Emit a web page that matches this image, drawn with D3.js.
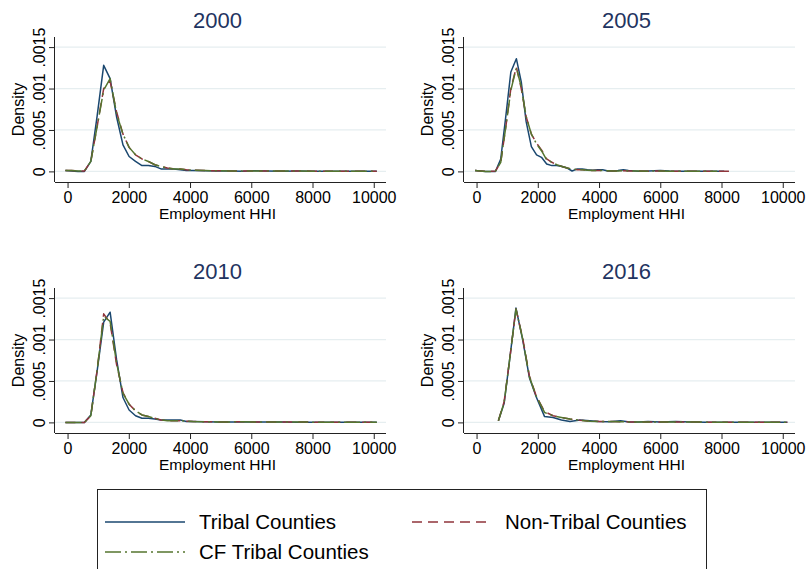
<!DOCTYPE html>
<html>
<head>
<meta charset="utf-8">
<script src="https://cdn.jsdelivr.net/npm/d3@7"></script>
<style>
  body { margin: 0; background: #fff; }
  svg { font-family: "Liberation Sans", Arial, sans-serif; }
</style>
</head>
<body>
<div id="chart"></div>
<script>
const width = 806;
const height = 569;

// x grids (Employment HHI)
const hhi2000 = [-70, 130, 340, 550, 760, 970, 1180, 1390, 1600, 1810, 2010, 2220, 2430, 2640, 2850, 3050, 3260, 3470, 3680, 3880, 4090, 4500, 4900, 5300, 5700, 6100, 6500, 7000, 7500, 8000, 8500, 9000, 9500, 10100];
const hhi2005 = [-50, 120, 290, 460, 620, 790, 960, 1120, 1300, 1460, 1620, 1790, 1960, 2120, 2290, 2460, 2620, 2790, 2960, 3120, 3290, 3450, 3620, 3790, 3960, 4120, 4290, 4460, 4620, 4790, 4960, 5290, 5620, 6000, 6300, 6600, 7000, 7400, 7860, 8086, 8250];
const hhi2010 = [-70, 130, 340, 550, 760, 970, 1180, 1390, 1600, 1810, 2010, 2220, 2430, 2640, 2850, 3050, 3260, 3470, 3680, 3880, 4090, 4500, 4900, 5300, 5700, 6100, 6500, 7000, 7500, 8000, 8500, 9000, 9500, 10100];
const hhi2016 = [713, 901, 1095, 1287, 1505, 1726, 1947, 2221, 2500, 2772, 3050, 3380, 3700, 4000, 4350, 4700, 5000, 5300, 5600, 6000, 6500, 7000, 7500, 8000, 8500, 9000, 9500, 10150];

// densities
const tribal2000 = [0.00001, 0.000005, 0, 0, 0.00012, 0.00068, 0.00128, 0.00112, 0.00066, 0.00032, 0.00018, 0.00012, 0.00007, 0.00007, 0.00006, 0.00003, 0.00003, 0.00003, 0.00002, 0.00001, 0.00001, 0.000008, 0.000005, 0.000005, 0.000003, 0.000008, 0.000005, 0.000003, 0.000005, 0.000003, 0.000002, 0.000002, 0.000002, 0.000002];
const nontribal2000 = [0.00001, 0.00001, 0.000005, 0.000005, 0.00012, 0.00055, 0.00100, 0.00109, 0.00072, 0.00045, 0.00029, 0.00020, 0.00015, 0.00012, 0.00008, 0.00006, 0.00004, 0.00003, 0.00003, 0.00002, 0.000015, 0.00001, 0.000008, 0.000006, 0.000005, 0.000006, 0.000004, 0.000005, 0.000004, 0.000003, 0.000003, 0.000003, 0.000002, 0.000002];
const cf2000 = [0.00001, 0.00001, 0.000005, 0.000005, 0.00012, 0.00055, 0.00098, 0.00112, 0.00070, 0.00045, 0.00029, 0.00020, 0.00015, 0.00012, 0.00008, 0.00006, 0.00004, 0.00003, 0.00003, 0.00002, 0.000015, 0.00001, 0.000008, 0.000006, 0.000005, 0.000006, 0.000004, 0.000005, 0.000004, 0.000003, 0.000003, 0.000003, 0.000002, 0.000002];

const tribal2005 = [0.00001, 0.000005, 0, 0, 0, 0.00015, 0.00068, 0.00120, 0.00136, 0.00108, 0.00060, 0.00030, 0.00020, 0.00017, 0.00009, 0.00007, 0.00007, 0.00006, 0.00004, 0.000005, 0.00003, 0.00003, 0.00002, 0.000015, 0.00002, 0.00002, 0.000005, 0.000005, 0.00001, 0.00002, 0.00001, 0.000003, 0.000005, 0.00001, 0.000005, 0.000003, 0.000003, 0.000003, 0.000002, 0.000002, null];
const nontribal2005 = [0.00001, 0.000005, 0, 0, 0.000005, 0.00011, 0.00055, 0.00100, 0.00126, 0.00100, 0.00066, 0.00045, 0.00034, 0.00026, 0.00015, 0.00011, 0.00008, 0.00006, 0.00004, 0.00003, 0.00002, 0.00002, 0.000015, 0.00001, 0.00001, 0.00001, 0.000008, 0.000006, 0.000005, 0.000008, 0.000006, 0.000004, 0.000003, 0.000004, 0.000003, 0.000003, 0.000003, 0.000002, 0.000002, 0.000002, 0.000002];
const cf2005 = [0.00001, 0.000005, 0, 0, 0.000005, 0.00011, 0.00055, 0.00098, 0.00125, 0.00102, 0.00066, 0.00045, 0.00033, 0.00025, 0.00014, 0.00011, 0.00008, 0.00006, 0.00004, 0.00003, 0.00002, 0.00002, 0.000015, 0.00001, 0.00001, 0.00001, 0.000008, 0.000006, 0.000005, 0.000008, 0.000006, 0.000004, 0.000003, 0.000004, 0.000003, 0.000003, 0.000003, 0.000002, 0.000002, null, null];

const tribal2010 = [0, 0, 0, 0, 0.00009, 0.00063, 0.00121, 0.00133, 0.00076, 0.00030, 0.00015, 0.00008, 0.00005, 0.00005, 0.00004, 0.00003, 0.00003, 0.00003, 0.00003, 0.00001, 0.00001, 0.000008, 0.000005, 0.000005, 0.000006, 0.000005, 0.000004, 0.000005, 0.000003, 0.000003, 0.000003, 0.000002, 0.000002, 0.000002];
const nontribal2010 = [0, 0, 0, 0, 0.00008, 0.00064, 0.00131, 0.00120, 0.00070, 0.00036, 0.00022, 0.00014, 0.00009, 0.00007, 0.00005, 0.00003, 0.00002, 0.00002, 0.00002, 0.000015, 0.00001, 0.000008, 0.000006, 0.000006, 0.000008, 0.000005, 0.000004, 0.000006, 0.000004, 0.000003, 0.000003, 0.000003, 0.000002, 0.000002];
const cf2010 = [0, 0, 0, 0, 0.00008, 0.00064, 0.00128, 0.00122, 0.00072, 0.00035, 0.00022, 0.00014, 0.00009, 0.00007, 0.00005, 0.00003, 0.00002, 0.00002, 0.00002, 0.000015, 0.00001, 0.000008, 0.000006, 0.000006, 0.000008, 0.000005, 0.000004, 0.000006, 0.000004, 0.000003, 0.000003, 0.000003, 0.000002, 0.000002];

const tribal2016 = [0.00002, 0.00023, 0.00080, 0.00138, 0.00100, 0.00054, 0.00031, 0.00007, 0.00006, 0.00003, 0.00001, 0.00003, 0.00002, 0.00001, 0.000008, 0.00002, 0.000005, 0.000005, 0.00001, 0.000005, 0.00001, 0.000005, 0.000003, 0.000003, 0.000003, 0.000002, 0.000002, 0.000002];
const nontribal2016 = [0.00002, 0.00025, 0.00080, 0.00137, 0.00102, 0.00056, 0.00032, 0.00013, 0.00008, 0.00006, 0.00004, 0.000025, 0.000015, 0.00001, 0.00001, 0.000008, 0.000006, 0.000005, 0.000005, 0.000005, 0.000004, 0.000004, 0.000003, 0.000003, 0.000003, 0.000002, 0.000002, 0.000002];
const cf2016 = [0.00002, 0.00024, 0.00080, 0.00137, 0.00101, 0.00055, 0.00032, 0.00012, 0.00008, 0.00006, 0.00004, 0.000025, 0.000015, 0.00001, 0.00001, 0.000008, 0.000006, 0.000005, 0.000005, 0.000005, 0.000004, 0.000004, 0.000003, 0.000003, 0.000003, 0.000002, 0.000002, 0.000002];

const years = ['2000', '2005', '2010', '2016'];
const xTicks = [0, 2000, 4000, 6000, 8000, 10000];
const yTicks = [0, 0.0005, 0.001, 0.0015];
const yTickLabels = ['0', '.0005', '.001', '.0015'];
const seriesNames = ['Tribal Counties', 'Non-Tribal Counties', 'CF Tribal Counties'];

const panels = [
    {year: years[0], hhi: hhi2000, series: [tribal2000, nontribal2000, cf2000]},
    {year: years[1], hhi: hhi2005, series: [tribal2005, nontribal2005, cf2005]},
    {year: years[2], hhi: hhi2010, series: [tribal2010, nontribal2010, cf2010]},
    {year: years[3], hhi: hhi2016, series: [tribal2016, nontribal2016, cf2016]},
];

const colors = ['#1a476f', '#90353b', '#55752f'];
const dashes = [null, '10,6', '16,4,2,4'];

const colX = [55, 464];
const rowY = [37, 288];
const plotW = 331;
const plotH = 145;

const svg = d3.select('#chart').append('svg')
    .attr('width', width)
    .attr('height', height);

const x = d3.scaleLinear().domain([-410, 10400]).range([0, plotW]);
const y = d3.scaleLinear().domain([-0.000128, 0.001622]).range([plotH, 0]);

panels.forEach((p, i) => {
    const g = svg.append('g')
        .attr('transform', `translate(${colX[i % 2]},${rowY[Math.floor(i / 2)]})`);

    // gridlines
    g.append('g')
        .selectAll('line')
        .data(yTicks)
        .join('line')
        .attr('x1', 0)
        .attr('x2', plotW)
        .attr('y1', d => y(d))
        .attr('y2', d => y(d))
        .attr('stroke', '#e6eef0')
        .attr('stroke-width', 1.2);

    // curves
    const line = d3.line()
        .defined(d => d[1] != null)
        .x(d => x(d[0]))
        .y(d => y(d[1]));

    p.series.forEach((vals, s) => {
        g.append('path')
            .datum(p.hhi.map((h, k) => [h, vals[k]]))
            .attr('fill', 'none')
            .attr('stroke', colors[s])
            .attr('stroke-width', 1.5)
            .attr('stroke-linejoin', 'round')
            .attr('stroke-dasharray', dashes[s])
            .attr('d', line);
    });

    // axes
    const xAxis = g.append('g')
        .attr('transform', `translate(0,${plotH})`)
        .call(d3.axisBottom(x).tickValues(xTicks).tickSize(6).tickPadding(4).tickSizeOuter(0)
            .tickFormat(d3.format('d')));
    xAxis.select('.domain').attr('stroke', '#222').attr('d', `M0,0.5H${plotW}`);
    xAxis.selectAll('.tick line').attr('stroke', '#222');
    xAxis.selectAll('.tick text')
        .attr('font-size', '16px')
        .attr('fill', '#000')
        .attr('font-family', '"Liberation Sans", Arial, sans-serif');

    const yAxis = g.append('g')
        .call(d3.axisLeft(y).tickValues(yTicks).tickSize(6).tickSizeOuter(0)
            .tickFormat((d, k) => yTickLabels[k]));
    yAxis.select('.domain').attr('stroke', '#222').attr('d', `M-0.5,0V${plotH}`);
    yAxis.selectAll('.tick line').attr('stroke', '#222');
    yAxis.selectAll('.tick text')
        .attr('font-size', '16px')
        .attr('fill', '#000')
        .attr('font-family', '"Liberation Sans", Arial, sans-serif')
        .attr('x', null)
        .attr('dy', null)
        .attr('text-anchor', 'middle')
        .attr('transform', 'translate(-10,0) rotate(-90)');

    // titles
    g.append('text')
        .attr('x', plotW / 2 - 3)
        .attr('y', -9)
        .attr('text-anchor', 'middle')
        .attr('font-size', '22px')
        .attr('fill', '#1f3461')
        .text(p.year);

    g.append('text')
        .attr('x', plotW / 2 - 3)
        .attr('y', plotH + 37)
        .attr('text-anchor', 'middle')
        .attr('font-size', '15.5px')
        .attr('fill', '#000')
        .text('Employment HHI');

    g.append('text')
        .attr('transform', `translate(-31,${plotH / 2}) rotate(-90)`)
        .attr('text-anchor', 'middle')
        .attr('font-size', '16px')
        .attr('fill', '#000')
        .text('Density');
});

// legend
const legend = svg.append('g');
legend.append('rect')
    .attr('x', 97.5)
    .attr('y', 489.5)
    .attr('width', 609)
    .attr('height', 100)
    .attr('fill', '#fff')
    .attr('stroke', '#222')
    .attr('stroke-width', 1);

const legendItems = [
    {name: seriesNames[0], lx: 105, ly: 522, tx: 199},
    {name: seriesNames[1], lx: 412, ly: 522, tx: 505},
    {name: seriesNames[2], lx: 105, ly: 552, tx: 199},
];

legendItems.forEach((d, i) => {
    legend.append('line')
        .attr('x1', d.lx)
        .attr('x2', d.lx + 80)
        .attr('y1', d.ly)
        .attr('y2', d.ly)
        .attr('stroke', colors[i])
        .attr('stroke-width', 1.5)
        .attr('stroke-dasharray', dashes[i]);
    legend.append('text')
        .attr('x', d.tx)
        .attr('y', d.ly + 7)
        .attr('font-size', '20.5px')
        .attr('fill', '#000')
        .text(d.name);
});
</script>
</body>
</html>
